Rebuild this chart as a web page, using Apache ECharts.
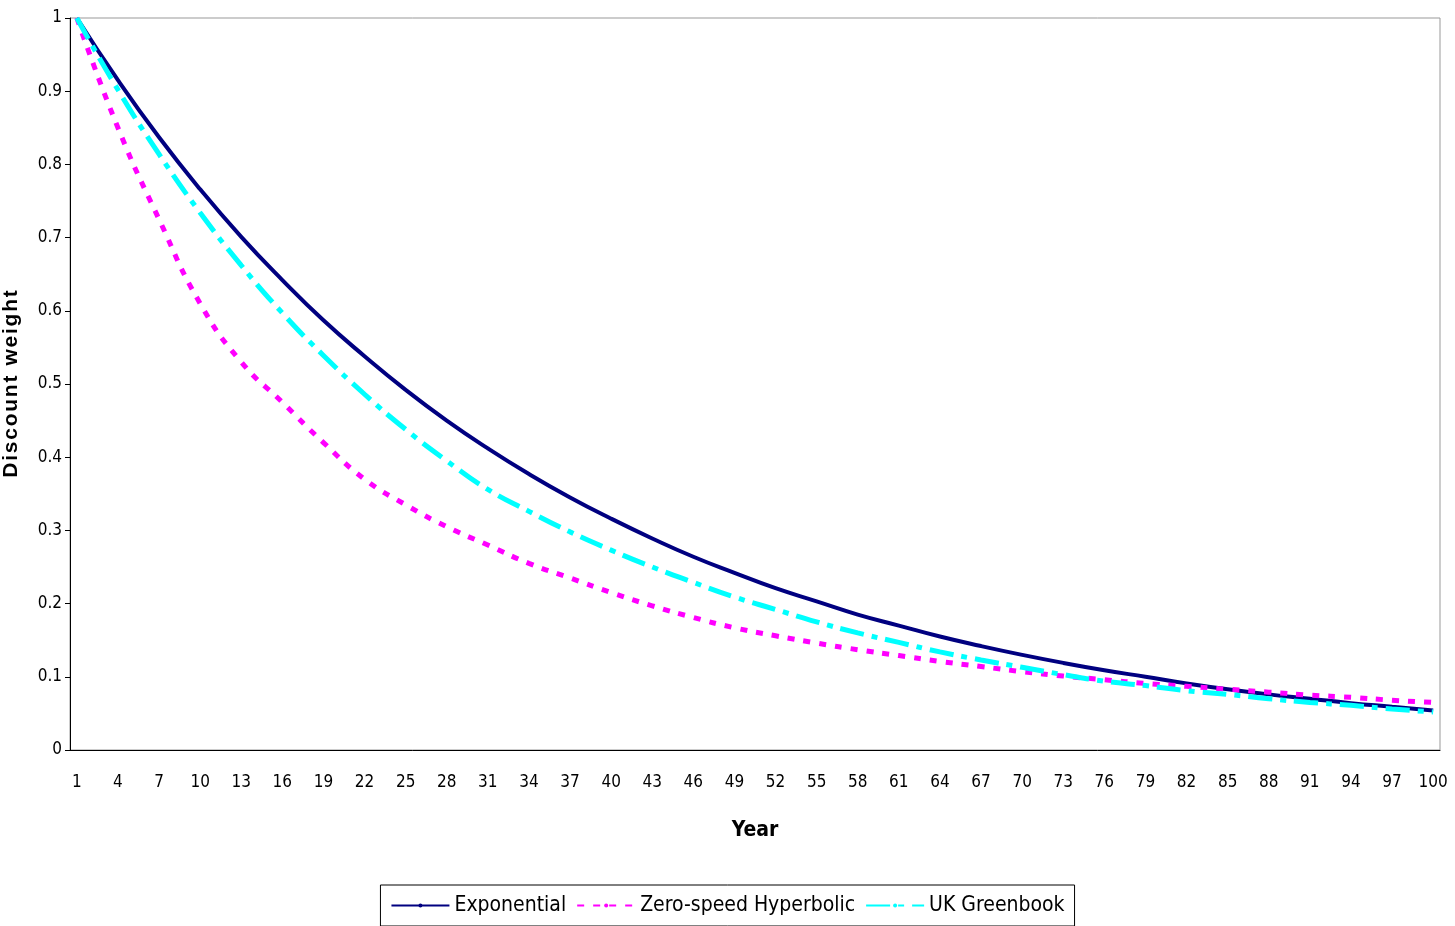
<!DOCTYPE html>
<html>
<head>
<meta charset="UTF-8">
<title>Discount weight</title>
<script src="https://cdn.jsdelivr.net/npm/echarts@6/dist/echarts.min.js"></script>
<style>body{margin:0;background:#fff}</style>
</head>
<body>
<div id="main" style="width:1455px;height:926px"></div>
<script>
// years 1..100, values read at every third year (1,4,7,...,100)
var years = [];
for (var y = 1; y <= 100; y++) years.push(String(y));

var exponential = [1, 0.915, 0.837, 0.766, 0.701, 0.642, 0.587, 0.538, 0.492, 0.450, 0.412, 0.377,
  0.345, 0.316, 0.289, 0.264, 0.242, 0.221, 0.203, 0.185, 0.170, 0.155, 0.142, 0.130, 0.119,
  0.109, 0.100, 0.091, 0.083, 0.076, 0.070, 0.064, 0.059, 0.054];
var hyperbolic = [1, 0.85, 0.725, 0.61, 0.53, 0.475, 0.42, 0.37, 0.335, 0.305, 0.28, 0.255,
  0.235, 0.215, 0.197, 0.181, 0.167, 0.156, 0.146, 0.137, 0.129, 0.121, 0.114, 0.107, 0.101,
  0.096, 0.091, 0.087, 0.083, 0.079, 0.075, 0.072, 0.068, 0.065];
var greenbook = [1, 0.902, 0.814, 0.734, 0.662, 0.597, 0.539, 0.486, 0.438, 0.395, 0.356, 0.326,
  0.298, 0.273, 0.250, 0.229, 0.209, 0.192, 0.175, 0.160, 0.147, 0.134, 0.123, 0.113, 0.103,
  0.094, 0.088, 0.081, 0.076, 0.070, 0.065, 0.061, 0.056, 0.052];

function spread(vals) {
  var out = [];
  for (var i = 0; i < 100; i++) out.push(i % 3 === 0 ? vals[i / 3] : null);
  return out;
}

var font = "'DejaVu Sans Condensed', 'Liberation Sans Narrow', Arial";
var myChart = echarts.init(document.getElementById('main'));
myChart.setOption({
  animation: false,
  textStyle: { fontFamily: font },
  grid: { left: 70, right: 15, top: 18, bottom: 176, outerBoundsMode: 'none', containLabel: false,
    show: true, borderColor: '#999', borderWidth: 1 },
  legend: {
    bottom: 0, left: 'center',
    borderColor: '#000', borderWidth: 1, padding: [10, 10, 10, 10],
    itemWidth: 58, itemHeight: 5, itemGap: 10,
    textStyle: { fontSize: 21, color: '#000', fontFamily: font },
    data: ['Exponential', 'Zero-speed Hyperbolic', 'UK Greenbook']
  },
  xAxis: {
    type: 'category', data: years, boundaryGap: true,
    name: 'Year', nameLocation: 'middle', nameGap: 70,
    nameTextStyle: { fontSize: 21, fontWeight: 'bold', color: '#000' },
    axisLine: { lineStyle: { color: '#000' } },
    axisTick: { interval: 0, length: 6, lineStyle: { color: '#000' } },
    axisLabel: { interval: 2, fontSize: 17, color: '#000', margin: 24 }
  },
  yAxis: {
    type: 'value', min: 0, max: 1, interval: 0.1,
    name: 'D\u200ai\u200as\u200ac\u200ao\u200au\u200an\u200at\u2009 w\u200ae\u200ai\u200ag\u200ah\u200at', nameLocation: 'middle', nameGap: 48,
    nameTextStyle: { fontSize: 21, fontWeight: 'bold', color: '#000', fontFamily: 'Liberation Sans, Arial' },
    axisLine: { show: true, lineStyle: { color: '#000' } },
    axisTick: { show: true, lineStyle: { color: '#000' } },
    splitLine: { show: false },
    axisLabel: { fontSize: 17, color: '#000', formatter: function (v) { return String(Math.round(v * 10) / 10); } }
  },
  series: [
    { name: 'Exponential', type: 'line', data: spread(exponential), connectNulls: true, smooth: true,
      showSymbol: false, symbol: 'none', color: '#000080', lineStyle: { color: '#000080', width: 4 } },
    { name: 'Zero-speed Hyperbolic', type: 'line', data: spread(hyperbolic), connectNulls: true, smooth: true,
      showSymbol: false, symbol: 'none', color: '#ff00ff', lineStyle: { color: '#ff00ff', width: 5, type: [7, 9] } },
    { name: 'UK Greenbook', type: 'line', data: spread(greenbook), connectNulls: true, smooth: true,
      showSymbol: false, symbol: 'none', color: '#00ffff', lineStyle: { color: '#00ffff', width: 5, type: [24, 8, 6, 8] } }
  ]
});
</script>
</body>
</html>
